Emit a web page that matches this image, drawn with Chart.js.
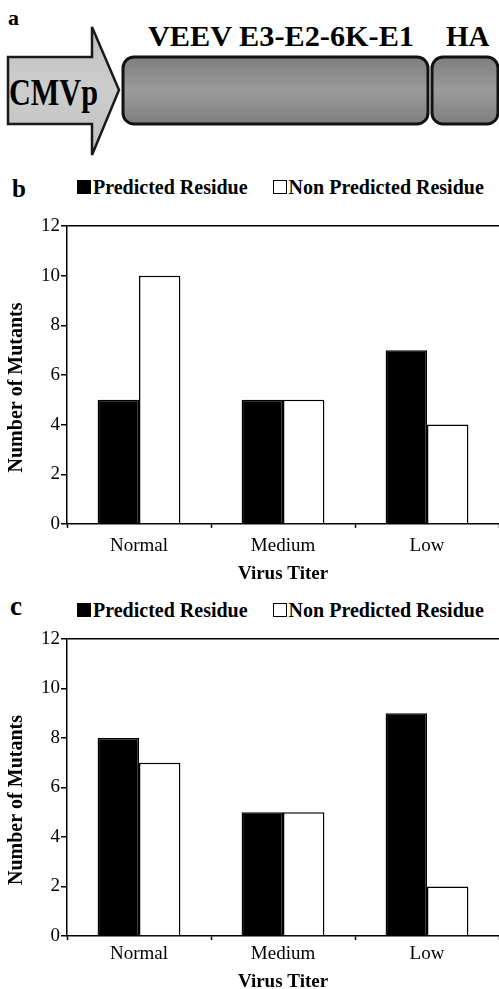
<!DOCTYPE html>
<html lang="en">
<head>
  <meta charset="UTF-8">
  <title>VEEV mutants by virus titer</title>
  <script src="https://cdn.jsdelivr.net/npm/chart.js"></script>
  <style>
    body {
      margin: 0;
      width: 499px;
      height: 989px;
      overflow: hidden;
      position: relative;
      background: #fff;
      font-family: 'Liberation Serif', 'Times New Roman', serif;
      color: #000;
    }
    .tag {
      position: absolute;
      font-weight: bold;
      line-height: 1;
    }
    .legend {
      position: absolute;
      left: 77px;
      font-size: 20px;
      font-weight: bold;
      line-height: 20px;
      white-space: nowrap;
    }
    .legend .item { display: inline-block; }
    .legend .item + .item { margin-left: 25px; }
    .legend .box {
      display: inline-block;
      width: 14px;
      height: 14px;
      box-sizing: border-box;
      border: 1px solid #000;
      margin-right: 2px;
      vertical-align: baseline;
    }
    .chart { position: absolute; left: 0; width: 499px; }
    svg { position: absolute; left: 0; top: 0; }
  </style>
</head>
<body>
  <svg width="499" height="165" viewBox="0 0 499 165">
    <defs>
      <linearGradient id="boxFill" x1="0" y1="0" x2="0" y2="1">
        <stop offset="0" stop-color="#7e7e7e"/>
        <stop offset="0.5" stop-color="#9b9b9b"/>
        <stop offset="1" stop-color="#7e7e7e"/>
      </linearGradient>
      <linearGradient id="arrowFill" x1="0" y1="0" x2="0" y2="1">
        <stop offset="0" stop-color="#c0c0c0"/>
        <stop offset="0.5" stop-color="#cdcdcd"/>
        <stop offset="1" stop-color="#c0c0c0"/>
      </linearGradient>
    </defs>
    <text x="8" y="25" font-family="Liberation Serif" font-weight="bold" font-size="22">a</text>
    <polygon points="8,57 92,57 92,27 119,90 92,155 92,124 8,124"
             fill="url(#arrowFill)" stroke="#1a1a1a" stroke-width="2.5" stroke-linejoin="miter"/>
    <text x="9" y="105" font-family="Liberation Serif" font-weight="bold" font-size="37"
          textLength="89" lengthAdjust="spacingAndGlyphs">CMVp</text>
    <rect x="123" y="57" width="305" height="67" rx="11" fill="url(#boxFill)" stroke="#111" stroke-width="3"/>
    <rect x="432" y="57" width="66" height="67" rx="11" fill="url(#boxFill)" stroke="#111" stroke-width="3"/>
    <text x="148" y="46" font-family="Liberation Serif" font-weight="bold" font-size="29"
          textLength="266" lengthAdjust="spacingAndGlyphs">VEEV E3-E2-6K-E1</text>
    <text x="446" y="46" font-family="Liberation Serif" font-weight="bold" font-size="29">HA</text>
  </svg>

  <div class="tag" style="left:12px; top:176px; font-size:25px;">b</div>
  <div class="legend" id="legendB" style="top:177px;"></div>
  <div class="chart" style="top:200px; height:390px;"><canvas id="chartB"></canvas></div>

  <div class="tag" style="left:10px; top:593px; font-size:27px;">c</div>
  <div class="legend" id="legendC" style="top:600px;"></div>
  <div class="chart" style="top:615px; height:380px;"><canvas id="chartC"></canvas></div>

  <script>
    const categories = ['Normal', 'Medium', 'Low'];
    const seriesNames = ['Predicted Residue', 'Non Predicted Residue'];
    const seriesFill = ['#000000', '#ffffff'];
    const yTicks = [0, 2, 4, 6, 8, 10, 12];

    // panel b
    const predictedB = [5, 5, 7];
    const nonPredictedB = [10, 5, 4];
    // panel c
    const predictedC = [8, 5, 9];
    const nonPredictedC = [7, 5, 2];

    const serif = "'Liberation Serif', 'Times New Roman', serif";
    const NBSP = '\u00a0';

    function buildLegend(id) {
      const el = document.getElementById(id);
      seriesNames.forEach((name, i) => {
        const item = document.createElement('span');
        item.className = 'item';
        const box = document.createElement('span');
        box.className = 'box';
        box.style.background = seriesFill[i];
        item.appendChild(box);
        item.appendChild(document.createTextNode(name));
        el.appendChild(item);
      });
    }

    function makeChart(id, predicted, nonPredicted, pad) {
      const bar = { borderColor: '#000', borderWidth: 1.5, categoryPercentage: 0.575, barPercentage: 1 };
      return new Chart(document.getElementById(id), {
        type: 'bar',
        data: {
          labels: categories,
          datasets: [
            Object.assign({ label: seriesNames[0], data: predicted, backgroundColor: seriesFill[0] }, bar),
            Object.assign({ label: seriesNames[1], data: nonPredicted, backgroundColor: seriesFill[1] }, bar)
          ]
        },
        options: {
          responsive: true,
          maintainAspectRatio: false,
          animation: false,
          layout: { padding: { top: pad.top, left: 5, right: 0, bottom: pad.bottom } },
          plugins: { legend: { display: false }, tooltip: { enabled: false } },
          scales: {
            x: {
              grid: { drawOnChartArea: false, tickLength: 4, tickColor: '#000', tickWidth: 1.5 },
              border: { color: '#000', width: 1.5 },
              ticks: { color: '#000', font: { family: serif, size: 19 }, padding: pad.tick },
              title: {
                display: true, text: 'Virus Titer', color: '#000',
                font: { family: serif, size: 19, weight: 'bold' },
                padding: { top: pad.title, bottom: 0 }
              }
            },
            y: {
              min: 0,
              max: 12,
              afterBuildTicks: axis => { axis.ticks = yTicks.map(v => ({ value: v })); },
              grid: {
                color: ctx => (ctx.tick && ctx.tick.value === 12 ? '#000' : 'rgba(0,0,0,0)'),
                lineWidth: 1.5, tickLength: 6, tickColor: '#000', tickWidth: 1.5
              },
              border: { color: '#000', width: 1.5 },
              ticks: { color: '#000', font: { family: serif, size: 19 }, padding: 1 },
              title: {
                display: true, text: 'Number of Mutants' + NBSP.repeat(5), color: '#000',
                font: { family: serif, size: 20, weight: 'bold' },
                padding: { top: 0, bottom: 11 }
              }
            }
          }
        }
      });
    }

    buildLegend('legendB');
    buildLegend('legendC');
    makeChart('chartB', predictedB, nonPredictedB, { top: 26, bottom: 5, tick: 6.5, title: -1.5 });
    makeChart('chartC', predictedC, nonPredictedC, { top: 24, bottom: 1.6, tick: 2.6, title: 2.6 });
  </script>
</body>
</html>
